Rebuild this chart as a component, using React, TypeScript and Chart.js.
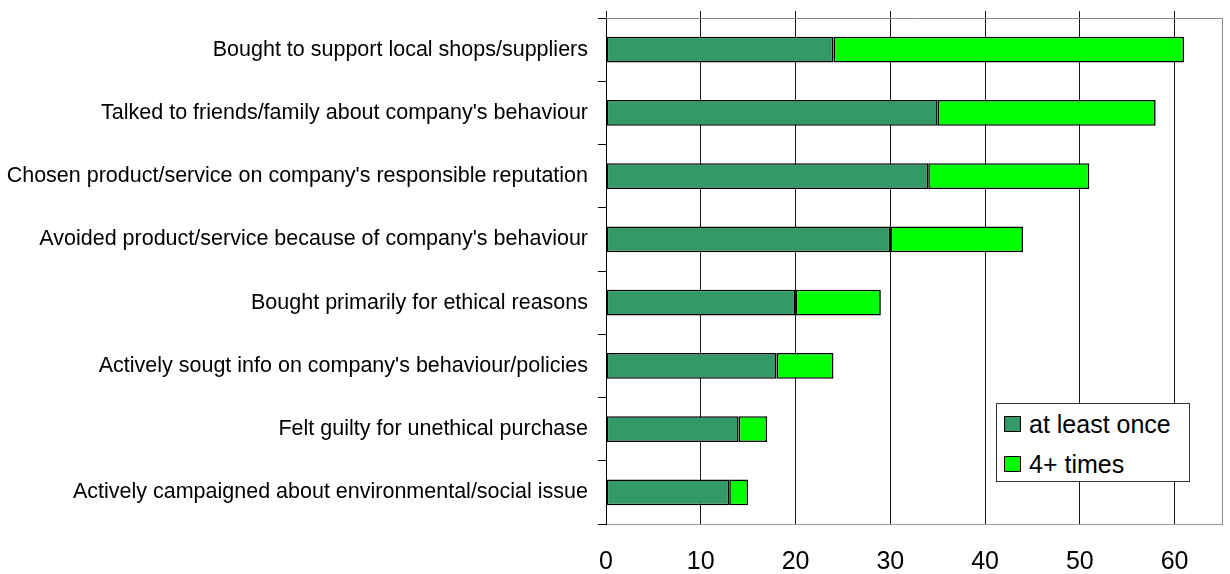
import React, { useEffect, useRef } from 'react';
import { Chart, registerables } from 'chart.js';

Chart.register(...registerables);

const categories = [
  'Bought to support local shops/suppliers',
  "Talked to friends/family about company's behaviour",
  "Chosen product/service on company's responsible reputation",
  "Avoided product/service because of company's behaviour",
  'Bought primarily for ethical reasons',
  "Actively sougt info on company's behaviour/policies",
  'Felt guilty for unethical purchase',
  'Actively campaigned about environmental/social issue',
];
const atLeastOnce = [24, 35, 34, 30, 20, 18, 14, 13];
const fourPlus = [37, 23, 17, 14, 9, 6, 3, 2];
const seriesNames = ['at least once', '4+ times'];
const seriesColors = ['#339966', '#00FF00'];
const xTicks = [0, 10, 20, 30, 40, 50, 60];
const xMin = 0;
const xMax = 65;

const FONT = '"Liberation Sans", Arial, sans-serif';

const framePlugin = {
  id: 'frame',
  afterDraw(chart: any) {
    const { ctx, chartArea } = chart;
    const { left, top, right, bottom } = chartArea;
    ctx.save();
    ctx.strokeStyle = '#8a8a8a';
    ctx.lineWidth = 1;
    ctx.beginPath();
    ctx.moveTo(left, Math.round(top) + 0.5);
    ctx.lineTo(Math.round(right) + 0.5, Math.round(top) + 0.5);
    ctx.lineTo(Math.round(right) + 0.5, Math.round(bottom) + 0.5);
    ctx.stroke();
    ctx.restore();
  },
};

export default function App() {
  const canvasRef = useRef<HTMLCanvasElement | null>(null);

  useEffect(() => {
    if (!canvasRef.current) return;
    const setTicks = (s: any) => {
      s.ticks = xTicks.map((v) => ({ value: v }));
    };
    const chart = new Chart(canvasRef.current, {
      type: 'bar',
      data: {
        labels: categories,
        datasets: [
          {
            label: seriesNames[0],
            data: atLeastOnce,
            backgroundColor: seriesColors[0],
            borderColor: '#000',
            borderWidth: 1.6,
            borderSkipped: false,
            barPercentage: 0.41,
            categoryPercentage: 1,
          },
          {
            label: seriesNames[1],
            data: fourPlus,
            backgroundColor: seriesColors[1],
            borderColor: '#000',
            borderWidth: 1.6,
            borderSkipped: false,
            barPercentage: 0.41,
            categoryPercentage: 1,
          },
        ],
      },
      options: {
        indexAxis: 'y',
        animation: false,
        responsive: false,
        maintainAspectRatio: false,
        layout: { padding: { top: 11, right: 8, left: 0, bottom: 0 } },
        plugins: {
          legend: { display: false },
          tooltip: { enabled: false },
        },
        scales: {
          x: {
            type: 'linear',
            position: 'bottom',
            stacked: true,
            min: xMin,
            max: xMax,
            afterBuildTicks: setTicks,
            afterFit: (s: any) => {
              s.height = 50;
              s.paddingLeft = 0;
              s.paddingRight = 0;
            },
            grid: { color: '#1a1a1a', lineWidth: 1, drawTicks: false },
            border: { display: true, color: '#999' },
            ticks: {
              color: '#000',
              padding: 23,
              font: { family: FONT, size: 25 },
            },
          },
          x2: {
            type: 'linear',
            position: 'top',
            min: xMin,
            max: xMax,
            afterBuildTicks: setTicks,
            afterFit: (s: any) => {
              s.height = 7;
              s.paddingLeft = 0;
              s.paddingRight = 0;
            },
            grid: {
              drawOnChartArea: false,
              drawTicks: true,
              tickLength: 7,
              color: '#1a1a1a',
            },
            border: { display: false },
            ticks: { display: false },
          },
          y: {
            type: 'category',
            stacked: true,
            afterFit: (s: any) => {
              s.width = 606;
              s.paddingTop = 0;
              s.paddingBottom = 0;
            },
            grid: {
              drawOnChartArea: false,
              drawTicks: true,
              tickLength: 8,
              offset: true,
              color: '#000',
            },
            border: { display: true, color: '#000' },
            ticks: {
              color: '#000',
              padding: 10,
              font: { family: FONT, size: 21.5 },
            },
          },
        },
      },
      plugins: [framePlugin],
    } as any);
    return () => chart.destroy();
  }, []);

  return (
    <div
      style={{
        position: 'fixed',
        left: 0,
        top: 0,
        width: 1230,
        height: 574,
        background: '#fff',
      }}
    >
      <canvas ref={canvasRef} width={1230} height={574} style={{ display: 'block' }} />
      <div
        style={{
          position: 'absolute',
          left: 996,
          top: 403,
          width: 192,
          height: 77,
          border: '1px solid #333',
          background: '#fff',
          fontFamily: FONT,
          fontSize: 25,
          color: '#000',
        }}
      >
        {seriesNames.map((name, i) => (
          <div
            key={name}
            style={{
              position: 'absolute',
              left: 7,
              top: 4 + i * 40,
              height: 32,
              display: 'flex',
              alignItems: 'center',
              whiteSpace: 'nowrap',
            }}
          >
            <span
              style={{
                display: 'inline-block',
                width: 15,
                height: 14,
                background: seriesColors[i],
                border: '1px solid #000',
                marginRight: 8,
              }}
            />
            <span>{name}</span>
          </div>
        ))}
      </div>
    </div>
  );
}
